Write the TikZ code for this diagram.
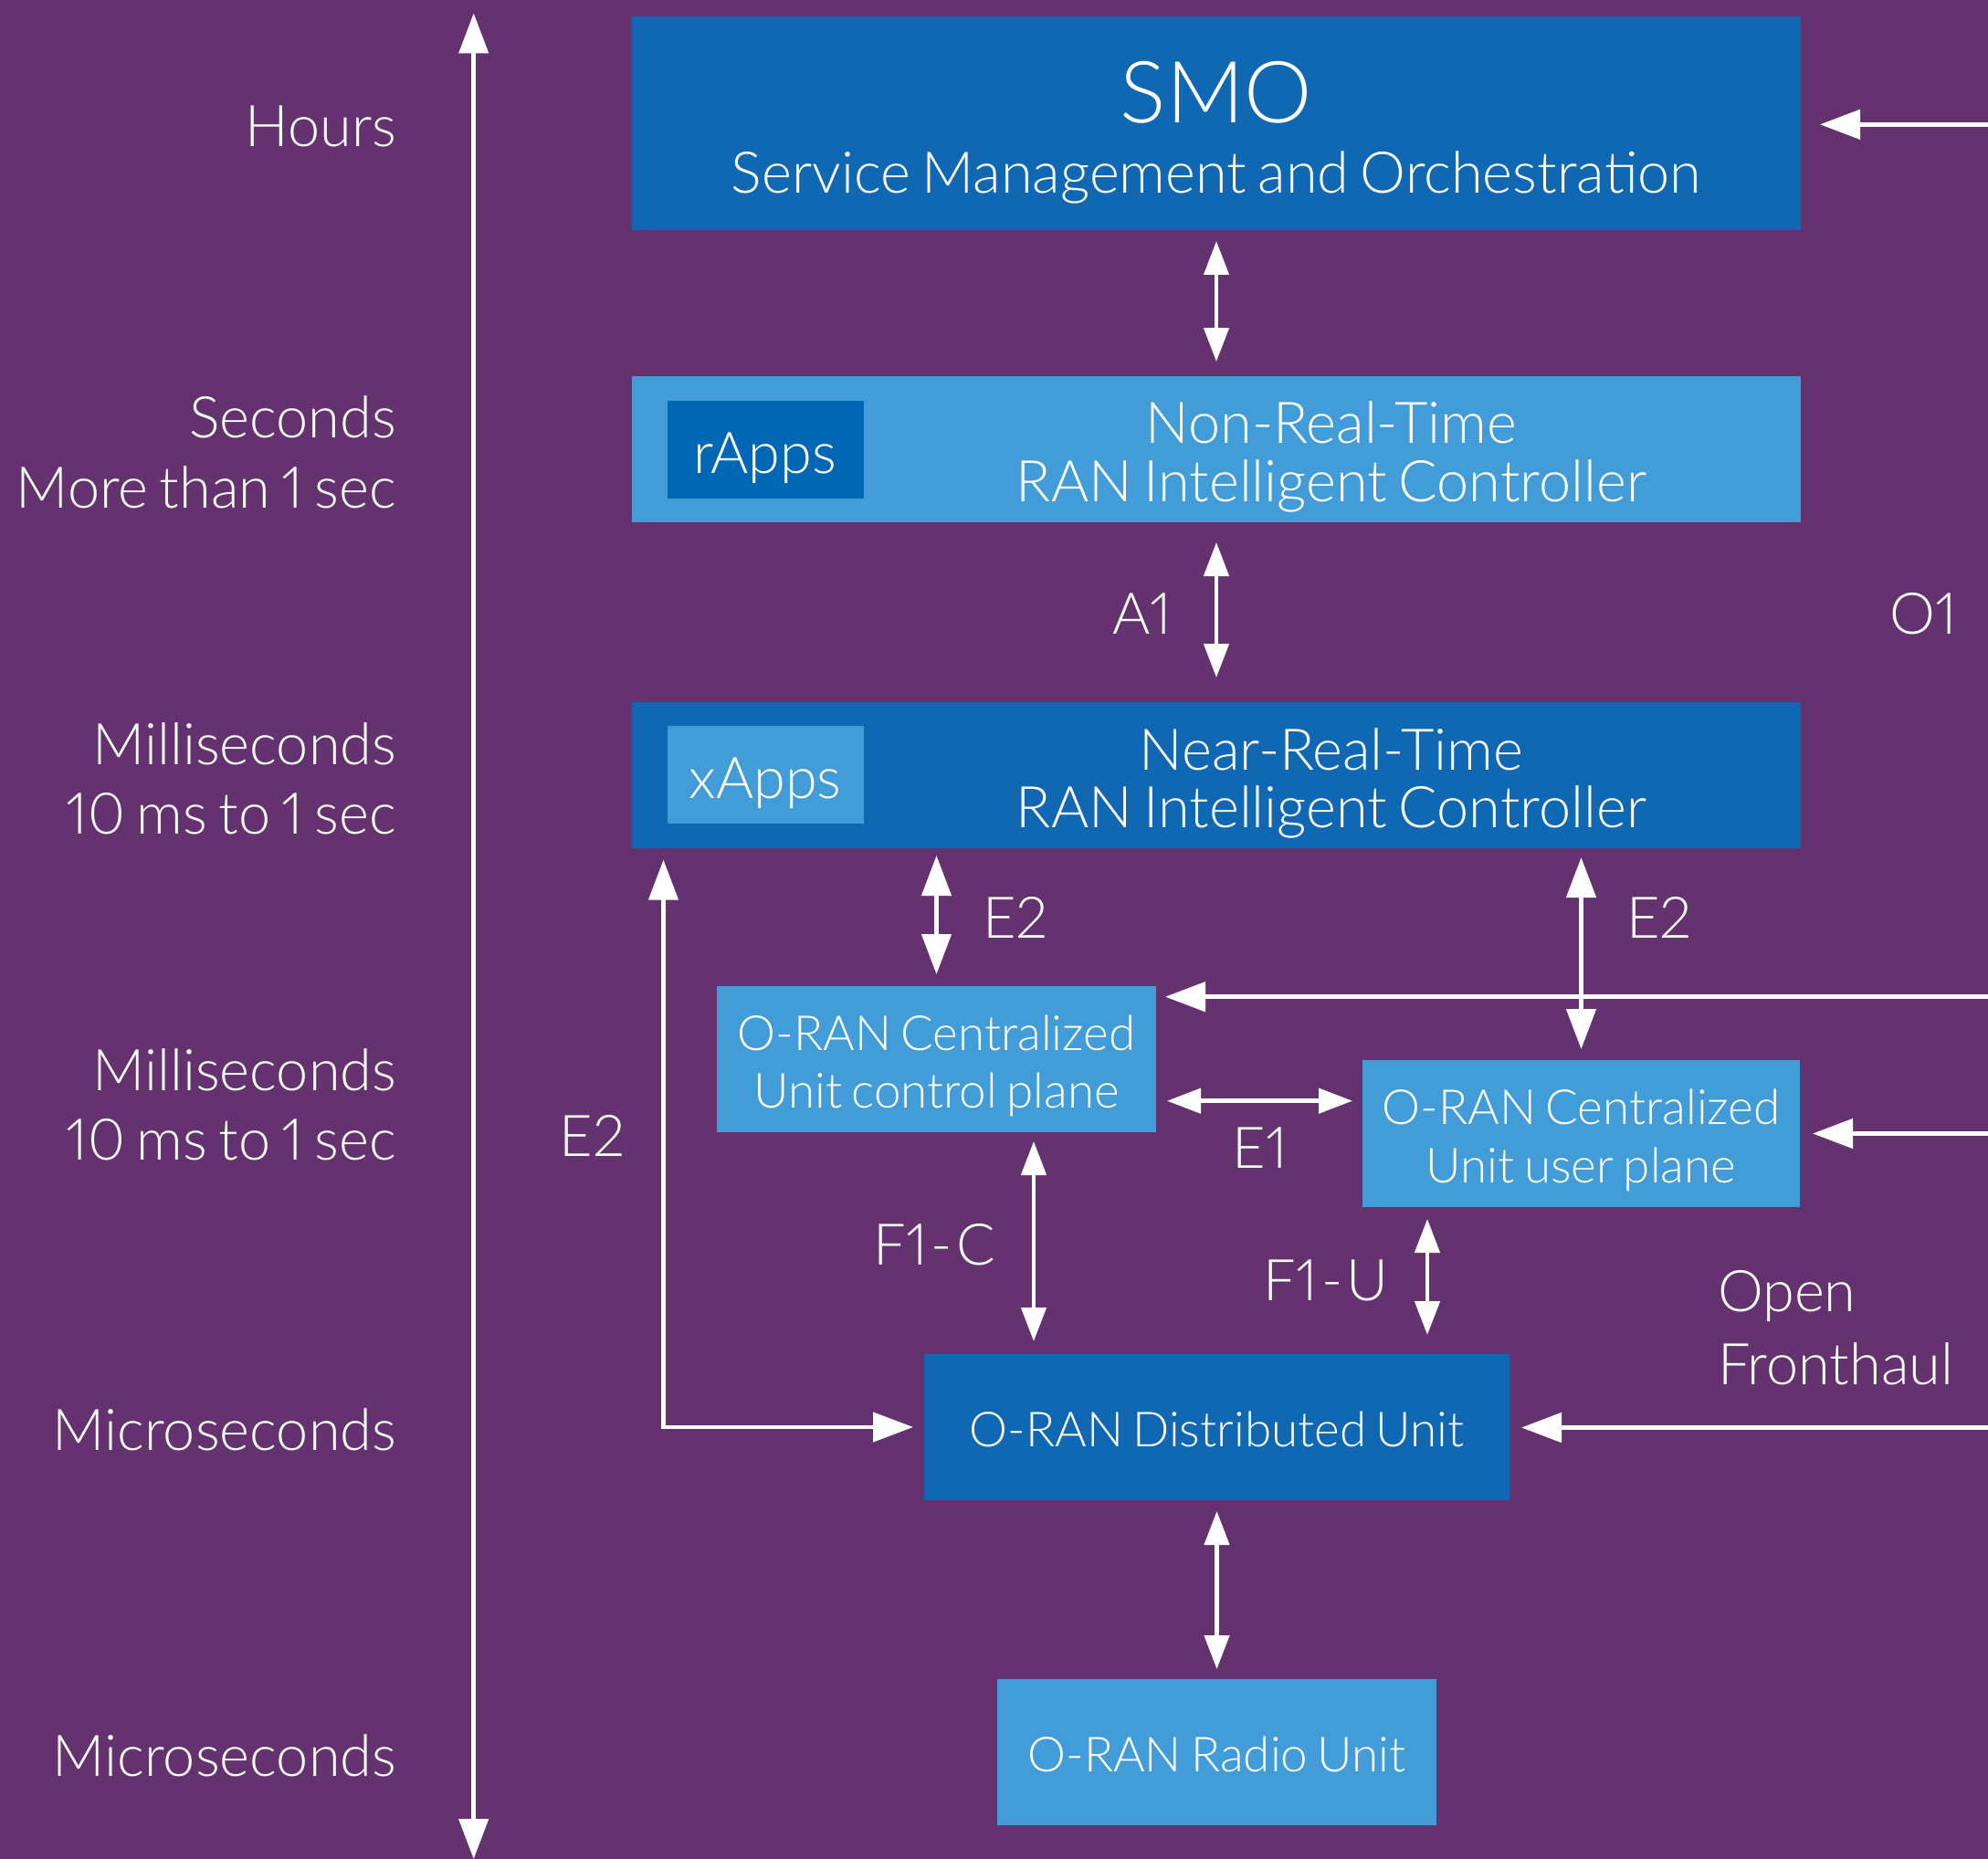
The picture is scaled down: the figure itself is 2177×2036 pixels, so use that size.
\documentclass[tikz,border=0pt]{standalone}
\usepackage{fontspec}
\IfFontExistsTF{Lato Light}{\setmainfont{Lato Light}[Numbers=Proportional, WordSpace=0.72]}{\setmainfont{Lato}[Numbers=Proportional, WordSpace=0.72]}
\usetikzlibrary{arrows.meta}
\definecolor{bg}{HTML}{653270}
\definecolor{dkb}{HTML}{0F68B1}
\definecolor{ltb}{HTML}{419CD7}
\definecolor{rab}{HTML}{0067B4}
\newcommand\fbig{\fontsize{63pt}{76pt}\selectfont}
\newcommand\fsml{\fontsize{53pt}{64pt}\selectfont}
\newcommand\fhuge{\fontsize{94pt}{110pt}\selectfont}
\tikzset{
  box/.style={rectangle, draw=none, inner sep=0pt, outer sep=0pt},
  txt/.style={text=white, inner sep=0pt, outer sep=0pt, font=\fbig},
  stxt/.style={text=white, inner sep=0pt, outer sep=0pt, font=\fsml},
  ln/.style={draw=white, line width=4.5pt},
  bigdbl/.style={ln, {Triangle[length=44pt,width=32pt]}-{Triangle[length=44pt,width=32pt]}},
  smalldbl/.style={ln, {Triangle[length=37pt,width=27pt]}-{Triangle[length=37pt,width=27pt]}},
  bigarr/.style={ln, -{Triangle[length=44pt,width=32pt]}},
}
\begin{document}
\begin{tikzpicture}[x=1pt,y=-1pt]
\fill[bg] (0,0) rectangle (2177,2036);
\useasboundingbox (0,0) rectangle (2177,2036);

% boxes
\node[box, fill=dkb, minimum width=1280pt, minimum height=234.5pt] (smo) at (1332,135.25) {};
\node[box, fill=ltb, minimum width=1280pt, minimum height=159.5pt] (nonrt) at (1332,491.75) {};
\node[box, fill=rab, minimum width=214.5pt, minimum height=107pt] (rapps) at (838.25,492.5) {};
\node[box, fill=dkb, minimum width=1280pt, minimum height=160pt] (nearrt) at (1332,849) {};
\node[box, fill=ltb, minimum width=214.5pt, minimum height=107pt] (xapps) at (838.25,848.5) {};
\node[box, fill=ltb, minimum width=481pt, minimum height=160pt] (cucp) at (1025.5,1160) {};
\node[box, fill=ltb, minimum width=479pt, minimum height=161pt] (cuup) at (1731.5,1241.5) {};
\node[box, fill=dkb, minimum width=641pt, minimum height=160pt] (du) at (1332.5,1563) {};
\node[box, fill=ltb, minimum width=481pt, minimum height=160pt] (ru) at (1332.5,1919) {};

% box texts
\node[txt, font=\fhuge, anchor=base] (tsmo) at (1332,135) {SMO};
\node[txt, anchor=base] (tsmo2) at (1332,212) {Service Management and Orchestration};
\node[txt, anchor=base] (tnon1) at (1458,485.7) {Non-Real-Time};
\node[txt, anchor=base] (tnon2) at (1458,549.3) {RAN Intelligent Controller};
\node[txt, anchor=base] (trapps) at (838,518) {rApps};
\node[txt, anchor=base] (tnear1) at (1458,843) {Near-Real-Time};
\node[txt, anchor=base] (tnear2) at (1458,906.4) {RAN Intelligent Controller};
\node[txt, anchor=base] (txapps) at (838,874.3) {xApps};
\node[stxt, anchor=base] (tcp1) at (1025.5,1150) {O-RAN Centralized};
\node[stxt, anchor=base] (tcp2) at (1025.5,1213.3) {Unit control plane};
\node[stxt, anchor=base] (tup1) at (1731.5,1231) {O-RAN Centralized};
\node[stxt, anchor=base] (tup2) at (1731.5,1295) {Unit user plane};
\node[stxt, anchor=base] (tdu) at (1332.5,1584) {O-RAN Distributed Unit};
\node[stxt, anchor=base] (tru) at (1332.5,1940.7) {O-RAN Radio Unit};

% left time labels
\node[txt, anchor=base east] (l1) at (434,160.7) {Hours};
\node[txt, anchor=base east] (l2) at (434,479.5) {Seconds};
\node[txt, anchor=base east] (l3) at (434,556) {More than 1 sec};
\node[txt, anchor=base east] (l4) at (434,837.5) {Milliseconds};
\node[txt, anchor=base east] (l5) at (434,913.5) {10 ms to 1 sec};
\node[txt, anchor=base east] (l6) at (434,1194.5) {Milliseconds};
\node[txt, anchor=base east] (l7) at (434,1270.5) {10 ms to 1 sec};
\node[txt, anchor=base east] (l8) at (434,1588.3) {Microseconds};
\node[txt, anchor=base east] (l9) at (434,1945) {Microseconds};

% interface labels
\node[txt, anchor=base] (la1) at (1251,694) {A1};
\node[txt, anchor=base] (lo1) at (2106,694) {O1};
\node[txt, anchor=base west] (le2a) at (1076,1027.7) {E2};
\node[txt, anchor=base west] (le2b) at (1781,1027.7) {E2};
\node[txt, anchor=base] (le2c) at (648.6,1266.7) {E2};
\node[txt, anchor=base] (le1) at (1380,1279.3) {E1};
\node[txt, anchor=base] (lf1c) at (1023,1385) {F1\kern4pt-\kern4pt C};
\node[txt, anchor=base] (lf1u) at (1452,1424) {F1\kern4pt-\kern4pt U};
\node[txt, anchor=base west] (lof1) at (1881,1436) {Open};
\node[txt, anchor=base west] (lof2) at (1881,1516) {Fronthaul};

% helper coordinates
\coordinate (tTop) at (518.7,14.5);
\coordinate (tBot) at (518.7,2036);
\coordinate (yE1) at (0,1205.7);
\coordinate (xF1C) at (1132,0);
\coordinate (xF1U) at (1563,0);
\coordinate (xE2) at (726.5,0);
\coordinate (rSMO) at (2180,136.3);
\coordinate (rCP) at (2180,1091.7);
\coordinate (rUP) at (2180,1241.5);
\coordinate (rDU) at (2180,1563.5);

% connectors
\draw[bigdbl] (tTop) -- (tBot);
\draw[smalldbl] ([yshift=-11.5pt]smo.south) -- ([yshift=16pt]nonrt.north);
\draw[smalldbl] ([yshift=-22.5pt]nonrt.south) -- ([yshift=27pt]nearrt.north);
\draw[bigdbl] ([yshift=-8pt]nearrt.south -| cucp.north) -- ([yshift=13pt]cucp.north);
\draw[bigdbl] ([yshift=-10pt]nearrt.south -| cuup.north) -- ([yshift=12pt]cuup.north);
\draw[smalldbl] ([xshift=12pt]cucp.east |- yE1) -- ([xshift=-11pt]cuup.west |- yE1);
\draw[smalldbl] ([yshift=-10pt]cucp.south -| xF1C) -- ([yshift=14pt]du.north -| xF1C);
\draw[smalldbl] ([yshift=-13pt]cuup.south -| xF1U) -- ([yshift=21pt]du.north -| xF1U);
\draw[smalldbl] ([yshift=-12pt]du.south) -- ([yshift=11pt]ru.north);
\draw[bigdbl] ([yshift=-12.7pt]nearrt.south -| xE2) -- (xE2 |- du.west) -- ([xshift=-12pt]du.west);
\draw[bigarr] (rSMO) -- ([xshift=21pt]smo.east |- rSMO);
\draw[bigarr] (rCP) -- ([xshift=10pt]cucp.east |- rCP);
\draw[bigarr] (rUP) -- ([xshift=14pt]cuup.east |- rUP);
\draw[bigarr] (rDU) -- ([xshift=13pt]du.east |- rDU);
\end{tikzpicture}
\end{document}
